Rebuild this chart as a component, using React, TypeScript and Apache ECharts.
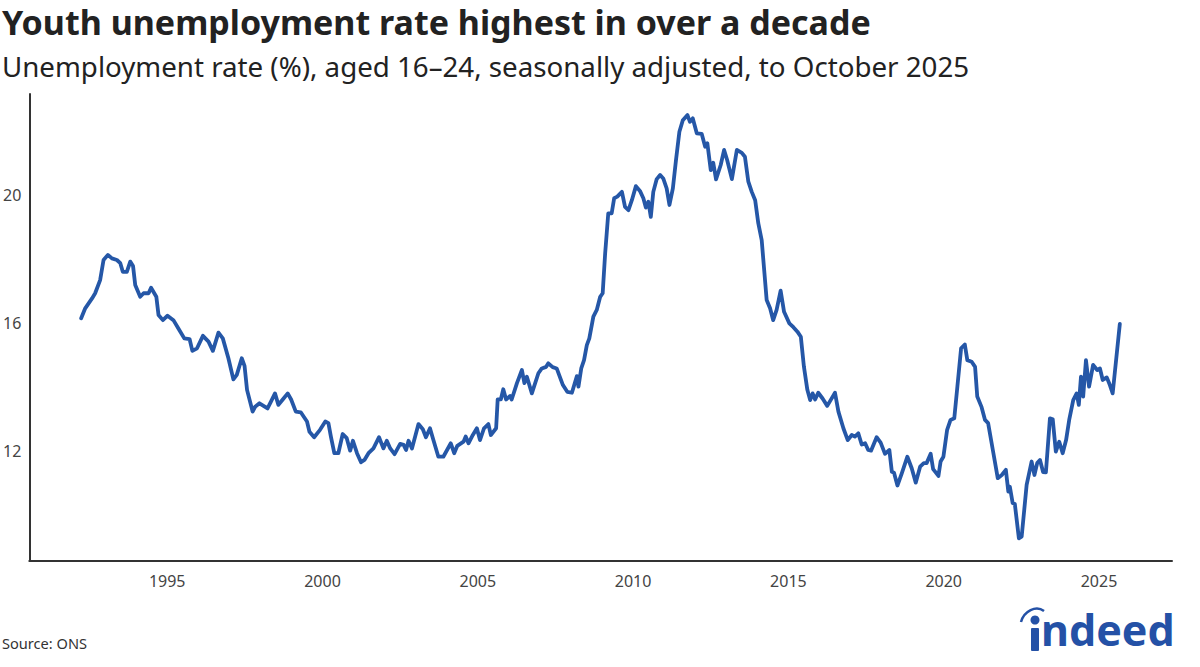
import React, { useEffect, useRef } from "react";
import * as echarts from "echarts";

const TITLE = "Youth unemployment rate highest in over a decade";
const SUBTITLE = "Unemployment rate (%), aged 16–24, seasonally adjusted, to October 2025";
const SOURCE = "Source: ONS";

const yTicks = [12, 16, 20];
const xTicks = [1995, 2000, 2005, 2010, 2015, 2020, 2025];

// decimal years
const dates = [
  1992.23, 1992.36, 1992.58, 1992.68, 1992.84, 1992.95, 1993.09, 1993.22, 1993.38, 1993.49,
  1993.57, 1993.70, 1993.81, 1993.90, 1993.97, 1994.13, 1994.24, 1994.40, 1994.48, 1994.65,
  1994.72, 1994.86, 1995.01, 1995.20, 1995.36, 1995.55, 1995.72, 1995.81, 1995.96, 1996.15,
  1996.33, 1996.47, 1996.65, 1996.79, 1996.97, 1997.13, 1997.24, 1997.40, 1997.49, 1997.57,
  1997.75, 1997.83, 1997.97, 1998.10, 1998.23, 1998.34, 1998.47, 1998.58, 1998.72, 1998.88,
  1998.99, 1999.14, 1999.30, 1999.50, 1999.58, 1999.73, 1999.92, 2000.09, 2000.19, 2000.27,
  2000.38, 2000.51, 2000.65, 2000.78, 2000.89, 2000.98, 2001.11, 2001.24, 2001.35, 2001.48,
  2001.64, 2001.82, 2001.96, 2002.07, 2002.18, 2002.32, 2002.50, 2002.61, 2002.69, 2002.77,
  2002.88, 2003.09, 2003.23, 2003.33, 2003.46, 2003.57, 2003.73, 2003.89, 2004.13, 2004.24,
  2004.34, 2004.54, 2004.61, 2004.70, 2004.84, 2004.97, 2005.07, 2005.20, 2005.34, 2005.42,
  2005.59, 2005.64, 2005.74, 2005.82, 2005.91, 2006.04, 2006.09, 2006.26, 2006.42, 2006.50,
  2006.58, 2006.74, 2006.95, 2007.06, 2007.20, 2007.27, 2007.41, 2007.54, 2007.74, 2007.88,
  2008.03, 2008.19, 2008.24, 2008.33, 2008.42, 2008.51, 2008.59, 2008.72, 2008.83, 2008.94,
  2009.02, 2009.10, 2009.20, 2009.31, 2009.39, 2009.49, 2009.64, 2009.74, 2009.85, 2009.96,
  2010.09, 2010.22, 2010.33, 2010.41, 2010.49, 2010.57, 2010.65, 2010.76, 2010.87, 2010.97,
  2011.08, 2011.17, 2011.28, 2011.38, 2011.49, 2011.60, 2011.75, 2011.83, 2011.92, 2012.05,
  2012.21, 2012.32, 2012.39, 2012.50, 2012.58, 2012.67, 2012.82, 2012.93, 2013.03, 2013.18,
  2013.34, 2013.50, 2013.60, 2013.71, 2013.82, 2013.93, 2014.03, 2014.14, 2014.30, 2014.41,
  2014.51, 2014.62, 2014.75, 2014.86, 2015.03, 2015.16, 2015.29, 2015.40, 2015.50, 2015.61,
  2015.70, 2015.78, 2015.86, 2015.96, 2016.10, 2016.25, 2016.36, 2016.50, 2016.61, 2016.77,
  2016.91, 2017.04, 2017.14, 2017.25, 2017.36, 2017.47, 2017.57, 2017.66, 2017.84, 2017.97,
  2018.11, 2018.25, 2018.33, 2018.40, 2018.51, 2018.65, 2018.83, 2018.97, 2019.10, 2019.24,
  2019.36, 2019.45, 2019.58, 2019.66, 2019.83, 2019.90, 2019.99, 2020.11, 2020.22, 2020.34,
  2020.44, 2020.56, 2020.68, 2020.76, 2020.90, 2021.01, 2021.08, 2021.22, 2021.33, 2021.43,
  2021.60, 2021.74, 2021.87, 2022.00, 2022.08, 2022.13, 2022.22, 2022.29, 2022.42, 2022.51,
  2022.67, 2022.83, 2022.92, 2023.01, 2023.10, 2023.20, 2023.29, 2023.42, 2023.51, 2023.61,
  2023.72, 2023.83, 2023.94, 2024.04, 2024.17, 2024.28, 2024.35, 2024.42, 2024.49, 2024.58,
  2024.68, 2024.81, 2024.94, 2025.03, 2025.12, 2025.25, 2025.35, 2025.44, 2025.67,
];

// unemployment rate, %, aged 16–24
const rates = [
  16.15, 16.46, 16.77, 16.93, 17.34, 17.97, 18.13, 18.02, 17.97, 17.87,
  17.6, 17.6, 17.92, 17.78, 17.19, 16.82, 16.93, 16.93, 17.1, 16.82,
  16.25, 16.09, 16.23, 16.09, 15.83, 15.52, 15.5, 15.13, 15.21, 15.6,
  15.42, 15.13, 15.7, 15.52, 14.9, 14.24, 14.38, 14.9, 14.66, 13.91,
  13.23, 13.38, 13.49, 13.41, 13.33, 13.54, 13.8, 13.44, 13.61, 13.8,
  13.61, 13.23, 13.21, 12.92, 12.6, 12.43, 12.66, 12.92, 12.87, 12.45,
  11.93, 11.93, 12.53, 12.4, 12.01, 12.32, 11.93, 11.65, 11.72, 11.93,
  12.08, 12.43, 12.08, 12.32, 12.08, 11.9, 12.22, 12.19, 12.03, 12.32,
  12.08, 12.84, 12.68, 12.43, 12.71, 12.34, 11.82, 11.82, 12.24, 11.93,
  12.16, 12.29, 12.45, 12.24, 12.5, 12.71, 12.34, 12.71, 12.84, 12.5,
  12.71, 13.61, 13.61, 13.93, 13.61, 13.72, 13.61, 14.12, 14.53, 14.12,
  14.32, 13.8, 14.43, 14.58, 14.63, 14.74, 14.62, 14.58, 14.06, 13.85,
  13.82, 14.34, 14.01, 14.58, 14.84, 15.31, 15.52, 16.2, 16.41, 16.82,
  16.93, 18.18, 19.43, 19.43, 19.9, 19.95, 20.1, 19.63, 19.53, 19.84,
  20.28, 20.13, 19.9, 19.61, 19.79, 19.32, 20.1, 20.5, 20.63, 20.52,
  20.21, 19.69, 20.21, 21.09, 21.98, 22.34, 22.5, 22.29, 22.4, 21.93,
  21.91, 21.51, 21.62, 20.78, 21.01, 20.49, 20.94, 21.41, 21.09, 20.5,
  21.41, 21.32, 21.2, 20.42, 20.1, 19.84, 19.12, 18.59, 16.72, 16.46,
  16.09, 16.41, 17.01, 16.35, 15.99, 15.87, 15.73, 15.57, 14.63, 13.91,
  13.59, 13.8, 13.61, 13.82, 13.64, 13.41, 13.59, 13.82, 13.23, 12.71,
  12.34, 12.5, 12.45, 12.55, 12.2, 12.24, 12.03, 12.01, 12.43, 12.26,
  11.91, 12.03, 11.35, 11.32, 10.92, 11.3, 11.82, 11.46, 11.01, 11.51,
  11.62, 11.62, 11.91, 11.43, 11.22, 11.67, 11.82, 12.66, 12.97, 13.02,
  14.01, 15.21, 15.33, 14.84, 14.79, 14.63, 13.7, 13.37, 12.97, 12.87,
  11.93, 11.15, 11.25, 11.41, 10.73, 10.88, 10.37, 10.34, 9.27, 9.32,
  10.94, 11.67, 11.25, 11.62, 11.72, 11.34, 11.33, 13.02, 12.99, 11.98,
  12.29, 11.93, 12.34, 12.97, 13.59, 13.8, 13.44, 14.32, 13.7, 14.84,
  14.01, 14.69, 14.53, 14.58, 14.22, 14.3, 14.06, 13.8, 15.97,
];

const FONT = "'Noto Sans', 'Open Sans', sans-serif";
const BLUE = "#2557a7";
const LOGO_BLUE = "#2451a6";

export default function App() {
  const ref = useRef<HTMLDivElement>(null);

  useEffect(() => {
    document.body.style.margin = "0";
    if (!ref.current) return;
    const chart = echarts.init(ref.current, undefined, { renderer: "svg" });
    const data = dates.map((d, i) => [d, rates[i]]);
    chart.setOption({
      animation: false,
      backgroundColor: "#ffffff",
      textStyle: { fontFamily: FONT },
      title: [
        {
          text: TITLE,
          left: 2,
          top: 5,
          padding: 0,
          textStyle: {
            fontFamily: FONT,
            fontSize: 34,
            lineHeight: 34,
            fontWeight: "bold",
            color: "#222222",
          },
        },
        {
          text: SUBTITLE,
          left: 2,
          top: 52,
          padding: 0,
          textStyle: {
            fontFamily: FONT,
            fontSize: 27.7,
            lineHeight: 28,
            fontWeight: "normal",
            color: "#222222",
          },
        },
        {
          text: SOURCE,
          left: 2,
          top: 635,
          padding: 0,
          textStyle: {
            fontFamily: FONT,
            fontSize: 14.6,
            lineHeight: 16,
            fontWeight: "normal",
            color: "#333333",
          },
        },
      ],
      grid: { left: 29, right: 28, top: 94, bottom: 106, containLabel: false },
      xAxis: {
        type: "value",
        min: 1990.56,
        max: 2027.35,
        axisLine: { show: true, lineStyle: { color: "#333333", width: 2 } },
        axisTick: { show: false },
        splitLine: { show: false },
        axisLabel: {
          customValues: xTicks,
          formatter: (v: number) => String(v),
          fontSize: 16,
          color: "#444444",
          fontFamily: FONT,
          margin: 12,
        },
      },
      yAxis: {
        type: "value",
        min: 8.56,
        max: 23.16,
        axisLine: { show: true, lineStyle: { color: "#333333", width: 2 } },
        axisTick: { show: false },
        splitLine: { show: false },
        axisLabel: {
          customValues: yTicks,
          formatter: (v: number) => String(v),
          fontSize: 16,
          color: "#444444",
          fontFamily: FONT,
          margin: 8,
        },
      },
      series: [
        {
          type: "line",
          data,
          showSymbol: false,
          symbol: "none",
          lineStyle: { color: BLUE, width: 3.8, join: "round", cap: "round" },
          itemStyle: { color: BLUE },
          z: 3,
        },
      ],
      graphic: [
        {
          type: "bezierCurve",
          shape: { x1: 1021, y1: 622, cpx1: 1024, cpy1: 611, cpx2: 1036, cpy2: 605, x2: 1044, y2: 611 },
          style: { stroke: LOGO_BLUE, lineWidth: 2.5, fill: null },
        },
        {
          type: "circle",
          shape: { cx: 1035, cy: 620, r: 4.5 },
          style: { fill: LOGO_BLUE },
        },
        {
          type: "rect",
          shape: { x: 1031, y: 628, width: 8, height: 23, r: 1 },
          style: { fill: LOGO_BLUE },
        },
        {
          type: "text",
          x: 1041,
          y: 651,
          style: {
            text: "ndeed",
            font: "bold 43px 'Noto Sans', sans-serif",
            fill: LOGO_BLUE,
            textVerticalAlign: "bottom",
          },
        },
      ],
    });
    return () => chart.dispose();
  }, []);

  return <div ref={ref} style={{ width: 1200, height: 667 }} />;
}
